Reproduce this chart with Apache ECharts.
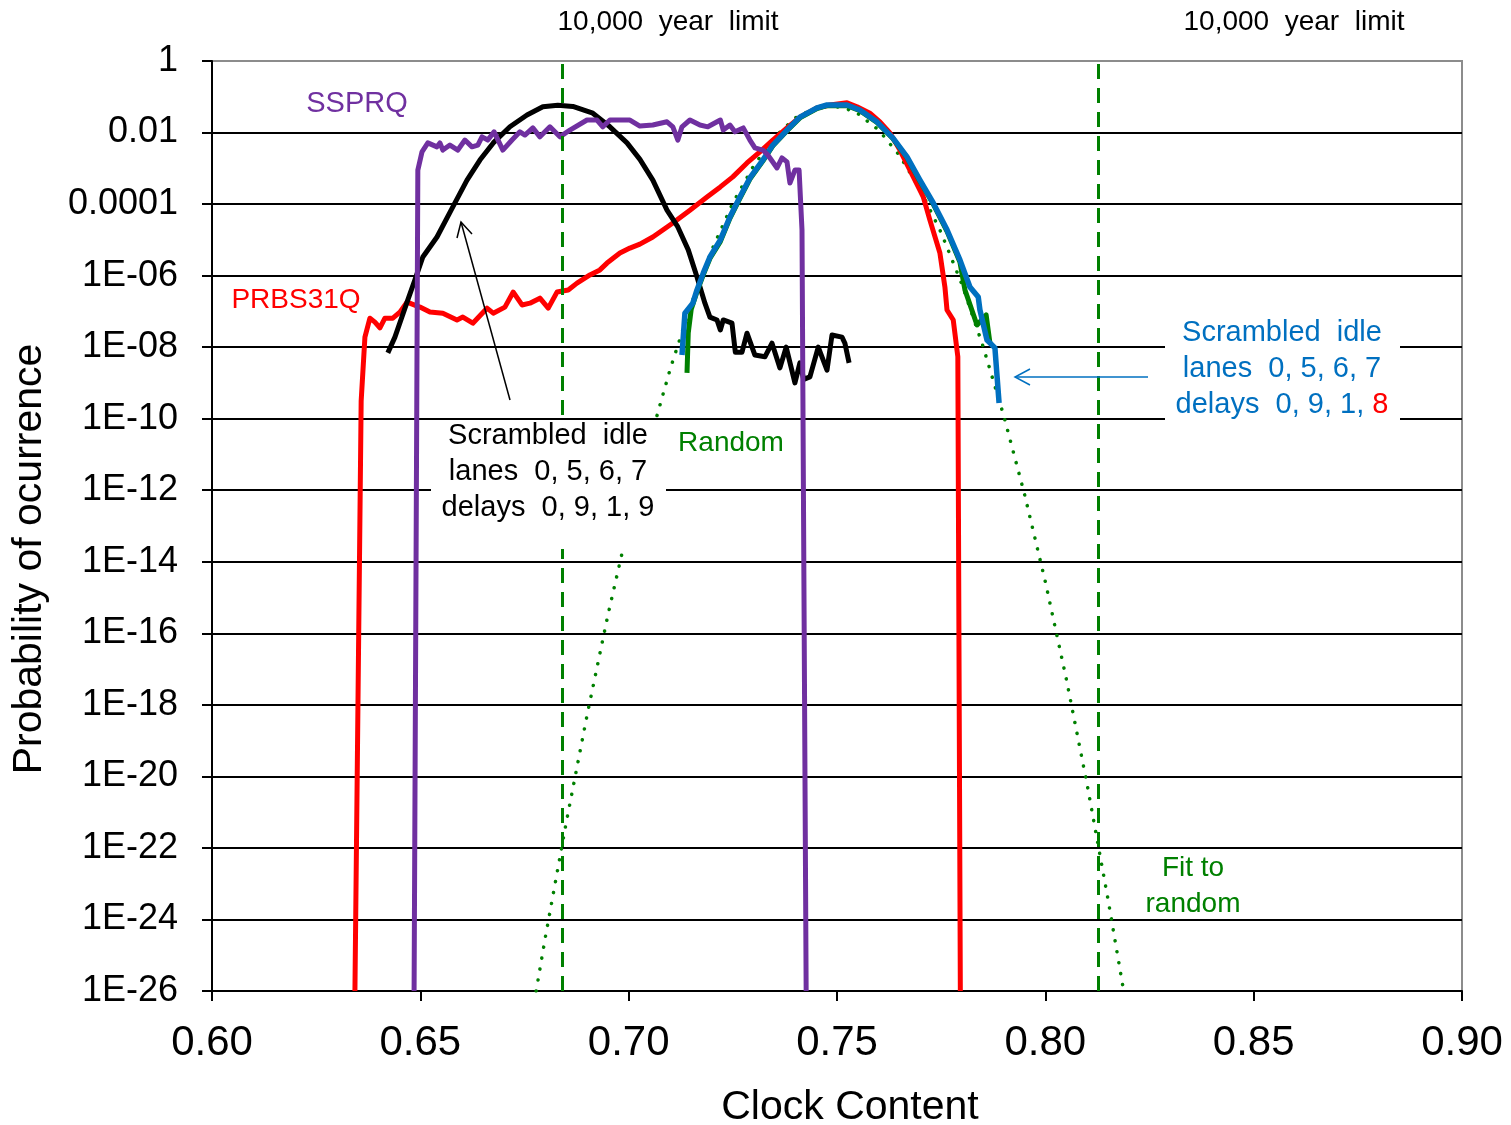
<!DOCTYPE html>
<html>
<head>
<meta charset="utf-8">
<script src="https://cdn.jsdelivr.net/npm/echarts@6/dist/echarts.min.js"></script>
<style>html,body{margin:0;padding:0;background:#fff;}#c{width:1511px;height:1125px;}</style>
</head>
<body>
<div id="c"></div>
<script>
// Values: [clock content, log10(probability of occurrence)]
const prbs31q = [[0.6343,-26],[0.6358,-9.5],[0.6367,-7.72],[0.6379,-7.19],[0.6391,-7.30],[0.6403,-7.46],[0.6415,-7.19],[0.6434,-7.19],[0.6451,-7.02],[0.6468,-6.74],[0.6499,-6.88],[0.6523,-7.02],[0.6554,-7.05],[0.6588,-7.24],[0.6602,-7.16],[0.6626,-7.33],[0.6660,-6.91],[0.6675,-7.05],[0.6703,-6.88],[0.6723,-6.46],[0.6744,-6.82],[0.6763,-6.77],[0.6787,-6.63],[0.6807,-6.91],[0.6828,-6.46],[0.6855,-6.40],[0.6876,-6.21],[0.6907,-5.98],[0.6931,-5.84],[0.6948,-5.65],[0.6979,-5.37],[0.7003,-5.23],[0.7027,-5.12],[0.7058,-4.92],[0.7106,-4.53],[0.7147,-4.17],[0.7188,-3.80],[0.7220,-3.52],[0.7250,-3.24],[0.7284,-2.85],[0.7315,-2.54],[0.7346,-2.21],[0.7380,-1.87],[0.7411,-1.57],[0.7452,-1.31],[0.7483,-1.23],[0.7524,-1.17],[0.7548,-1.28],[0.7579,-1.46],[0.7603,-1.70],[0.7627,-2.01],[0.7651,-2.49],[0.7675,-3.05],[0.7699,-3.61],[0.7707,-3.80],[0.7723,-4.45],[0.7747,-5.37],[0.7759,-6.32],[0.7764,-6.96],[0.7779,-7.24],[0.7790,-8.27],[0.7796,-26]];
const ssprq = [[0.6485,-26],[0.6494,-3.05],[0.6504,-2.54],[0.6518,-2.29],[0.6540,-2.40],[0.6547,-2.29],[0.6554,-2.49],[0.6571,-2.35],[0.6590,-2.49],[0.6607,-2.21],[0.6624,-2.40],[0.6638,-2.35],[0.6648,-2.12],[0.6662,-2.21],[0.6677,-1.98],[0.6698,-2.49],[0.6720,-2.21],[0.6739,-1.98],[0.6751,-2.07],[0.6770,-1.87],[0.6787,-2.12],[0.6811,-1.84],[0.6835,-2.12],[0.6859,-1.93],[0.6900,-1.65],[0.6924,-1.65],[0.6938,-1.84],[0.6955,-1.65],[0.7003,-1.65],[0.7027,-1.82],[0.7058,-1.79],[0.7092,-1.70],[0.7106,-1.84],[0.7118,-2.21],[0.7128,-1.84],[0.7147,-1.65],[0.7171,-1.79],[0.7190,-1.84],[0.7220,-1.65],[0.7227,-1.93],[0.7243,-1.79],[0.7255,-1.98],[0.7275,-1.87],[0.7291,-2.21],[0.7303,-2.43],[0.7322,-2.49],[0.7334,-2.63],[0.7356,-2.99],[0.7368,-2.71],[0.7380,-2.82],[0.7387,-3.41],[0.7399,-3.05],[0.7409,-3.05],[0.7416,-4.72],[0.7426,-26]];
const idle0919 = [[0.6422,-8.16],[0.6439,-7.72],[0.6470,-6.68],[0.6487,-6.12],[0.6506,-5.48],[0.6540,-4.92],[0.6578,-4.08],[0.6612,-3.33],[0.6643,-2.77],[0.6675,-2.29],[0.6715,-1.84],[0.6756,-1.51],[0.6794,-1.28],[0.6830,-1.24],[0.6866,-1.27],[0.6914,-1.46],[0.6955,-1.84],[0.6996,-2.29],[0.7027,-2.75],[0.7058,-3.33],[0.7092,-4.17],[0.7118,-4.64],[0.7143,-5.28],[0.7164,-6.04],[0.7183,-6.77],[0.7195,-7.16],[0.7212,-7.24],[0.7220,-7.52],[0.7227,-7.24],[0.7248,-7.33],[0.7256,-8.14],[0.7272,-8.14],[0.7284,-7.61],[0.7303,-8.22],[0.7327,-8.27],[0.7344,-7.89],[0.7363,-8.58],[0.7378,-8.00],[0.7399,-9.00],[0.7411,-8.44],[0.7420,-8.90],[0.7435,-8.83],[0.7455,-8.00],[0.7476,-8.64],[0.7488,-7.66],[0.7512,-7.72],[0.7519,-7.89],[0.7529,-8.44]];
const random = [[0.7140,-8.72],[0.7143,-7.60],[0.7150,-6.95],[0.7164,-6.45],[0.7179,-5.98],[0.7195,-5.52],[0.7220,-5.05],[0.7243,-4.40],[0.7267,-3.84],[0.7291,-3.30],[0.7322,-2.80],[0.7346,-2.37],[0.7380,-1.95],[0.7411,-1.59],[0.7452,-1.33],[0.7476,-1.25],[0.7524,-1.25],[0.7555,-1.39],[0.7596,-1.72],[0.7634,-2.17],[0.7668,-2.70],[0.7699,-3.36],[0.7731,-4.00],[0.7764,-4.76],[0.7795,-5.62],[0.7807,-6.40],[0.7836,-7.38],[0.7858,-7.10],[0.7867,-7.88]];
const idle0918 = [[0.7128,-8.22],[0.7135,-7.05],[0.7154,-6.77],[0.7164,-6.40],[0.7179,-5.93],[0.7195,-5.48],[0.7220,-5.00],[0.7243,-4.36],[0.7267,-3.80],[0.7291,-3.27],[0.7322,-2.77],[0.7346,-2.35],[0.7380,-1.93],[0.7411,-1.57],[0.7452,-1.31],[0.7476,-1.23],[0.7524,-1.23],[0.7555,-1.37],[0.7596,-1.70],[0.7634,-2.15],[0.7668,-2.68],[0.7699,-3.33],[0.7731,-3.97],[0.7764,-4.72],[0.7795,-5.56],[0.7819,-6.32],[0.7839,-6.60],[0.7843,-6.96],[0.7860,-7.80],[0.7879,-8.02],[0.7889,-9.56]];
const fitRandom = [[0.6778,-26.0],[0.680,-24.5],[0.685,-21.3],[0.690,-18.3],[0.695,-15.5],[0.700,-12.95],[0.705,-10.65],[0.710,-8.6],[0.715,-6.8],[0.720,-5.27],[0.725,-3.97],[0.730,-2.93],[0.735,-2.13],[0.740,-1.59],[0.745,-1.30],[0.7483,-1.25],[0.752,-1.32],[0.755,-1.47],[0.760,-1.93],[0.765,-2.64],[0.770,-3.60],[0.775,-4.80],[0.780,-6.25],[0.785,-7.96],[0.790,-9.91],[0.795,-12.11],[0.800,-14.56],[0.805,-17.26],[0.810,-20.21],[0.815,-23.41],[0.8188,-26.0]];
const limitX = [0.684, 0.8126];
// y tick labels, from exponent 0 down to -26 in steps of 2
const yTickLabels = {'0':'1','-2':'0.01','-4':'0.0001','-6':'1E-06','-8':'1E-08','-10':'1E-10','-12':'1E-12','-14':'1E-14','-16':'1E-16','-18':'1E-18','-20':'1E-20','-22':'1E-22','-24':'1E-24','-26':'1E-26'};

const FONT = "'Liberation Sans', Arial, sans-serif";
function lineSeries(name, data, color, extra) {
  return Object.assign({
    name, type: 'line', data, showSymbol: false, symbol: 'none',
    clip: true, lineStyle: { color, width: 5, join: 'round' }, z: 3
  }, extra || {});
}
function txt(text, x, y, color, size, extra) {
  return Object.assign({ type: 'text', x, y: y + 2, z: 110,
    style: { text, fill: color, font: (size || 29) + 'px ' + FONT, align: 'center', verticalAlign: 'middle' } }, extra || {});
}

const chart = echarts.init(document.getElementById('c'), null, { renderer: 'canvas' });
chart.setOption({
  animation: false,
  backgroundColor: '#fff',
  grid: { left: 212, right: 49, top: 61, bottom: 134, show: true, borderColor: '#8c8c8c', borderWidth: 2, backgroundColor: 'transparent' },
  xAxis: {
    type: 'value', min: 0.6, max: 0.9, interval: 0.05,
    axisLine: { onZero: false, lineStyle: { color: '#000', width: 2 } },
    axisTick: { show: true, inside: false, length: 10, lineStyle: { color: '#000', width: 2 } },
    splitLine: { show: false },
    axisLabel: { formatter: v => v.toFixed(2), fontSize: 42, fontFamily: FONT, color: '#000', margin: 31 }
  },
  yAxis: {
    type: 'value', min: -26, max: 0, interval: 2,
    axisLine: { show: true, onZero: false, lineStyle: { color: '#000', width: 2 } },
    axisTick: { show: true, inside: false, length: 10, lineStyle: { color: '#000', width: 2 } },
    splitLine: { show: true, showMaxLine: false, lineStyle: { color: '#000', width: 2 } },
    axisLabel: { formatter: v => yTickLabels[String(Math.round(v))] || '', fontSize: 36, fontFamily: FONT, color: '#000', margin: 34, padding: [4, 0, 0, 0] }
  },
  series: [
    lineSeries('Fit to random', fitRandom, '#008000', {
      lineStyle: { color: '#008000', width: 3.5, type: [0.1, 11], cap: 'round' }, z: 2,
      markLine: { silent: true, precision: 5, symbol: ['none', 'none'], label: { show: false },
        lineStyle: { color: '#008000', width: 3, type: [15, 9] },
        data: limitX.map(v => ({ xAxis: v })) }
    }),
    lineSeries('PRBS31Q', prbs31q, '#ff0000'),
    lineSeries('Scrambled idle 0,9,1,9', idle0919, '#000000'),
    lineSeries('Random', random, '#008000'),
    lineSeries('Scrambled idle 0,9,1,8', idle0918, '#0070c0', { lineStyle: { color: '#0070c0', width: 5.5, join: 'round' } }),
    lineSeries('SSPRQ', ssprq, '#7030a0')
  ],
  graphic: [
    { type: 'rect', z: 100, shape: { x: 431, y: 421, width: 235, height: 128 }, style: { fill: '#fff' } },
    { type: 'rect', z: 100, shape: { x: 1165, y: 313, width: 235, height: 108 }, style: { fill: '#fff' } },
    txt('10,000  year  limit', 668, 20, '#000', 28),
    txt('10,000  year  limit', 1294, 20, '#000', 28),
    txt('SSPRQ', 357, 102, '#7030a0', 29),
    txt('PRBS31Q', 296, 298, '#ff0000', 28),
    txt('Random', 731, 441, '#008000', 28),
    txt('Fit to', 1193, 866, '#008000', 28),
    txt('random', 1193, 902, '#008000', 28),
    txt('Scrambled  idle', 548, 434, '#000', 29),
    txt('lanes  0, 5, 6, 7', 548, 470, '#000', 29),
    txt('delays  0, 9, 1, 9', 548, 506, '#000', 29),
    txt('Scrambled  idle', 1282, 331, '#0070c0', 29),
    txt('lanes  0, 5, 6, 7', 1282, 367, '#0070c0', 29),
    { type: 'text', x: 1282, y: 405, z: 110,
      style: { text: '{b|delays  0, 9, 1, }{r|8}', align: 'center', verticalAlign: 'middle',
        font: '29px ' + FONT,
        rich: { b: { fill: '#0070c0', font: '29px ' + FONT }, r: { fill: '#ff0000', font: '29px ' + FONT } } } },
    { type: 'polyline', z: 105, shape: { points: [[510, 400], [461, 222]] }, style: { stroke: '#000', lineWidth: 1.5, fill: null } },
    { type: 'polyline', z: 105, shape: { points: [[457, 238], [461, 222], [472, 234]] }, style: { stroke: '#000', lineWidth: 1.5, fill: null } },
    { type: 'polyline', z: 105, shape: { points: [[1148, 377], [1015, 377]] }, style: { stroke: '#0070c0', lineWidth: 1.5, fill: null } },
    { type: 'polyline', z: 105, shape: { points: [[1030, 369], [1015, 377], [1030, 385]] }, style: { stroke: '#0070c0', lineWidth: 1.5, fill: null } },
    txt('Clock Content', 850, 1106, '#000', 41),
    txt('Probability of ocurrence', 30, 557, '#000', 41, { rotation: Math.PI / 2 })
  ]
});
</script>
</body>
</html>
